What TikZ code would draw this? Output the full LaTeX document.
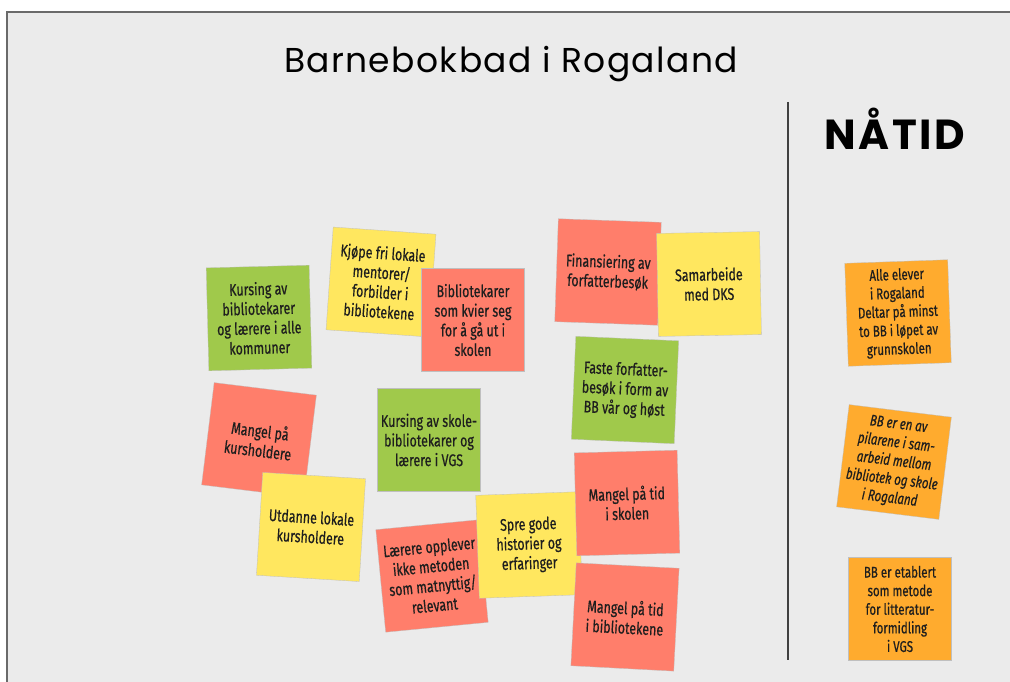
\documentclass[tikz,border=0pt]{standalone}
\usepackage{fontspec}
\setmainfont[FakeStretch=0.74,FakeBold=0.5]{Fira Sans}
\newfontfamily\titlefont[LetterSpace=4]{Poppins}
\newfontfamily\headfont[LetterSpace=6]{Poppins}
\definecolor{bgcol}{HTML}{EBEBEB}
\definecolor{framecol}{HTML}{6A6A6A}
\definecolor{gnote}{HTML}{A0C94B}
\definecolor{ynote}{HTML}{FFE75F}
\definecolor{rnote}{HTML}{FF7E6B}
\definecolor{onote}{HTML}{FFAB2E}
\definecolor{inkcol}{HTML}{1E1E1E}
\begin{document}
\begin{tikzpicture}[x=1pt,y=-1pt,
  note/.style={minimum width=103pt,minimum height=103pt,inner sep=0pt,align=center,
    text=inkcol,font=\fontsize{16.8}{19.6}\selectfont,draw=white!75!black,line width=0.3pt},
  gn/.style={note,fill=gnote},
  yn/.style={note,fill=ynote},
  rn/.style={note,fill=rnote},
  on/.style={note,fill=onote}]
\useasboundingbox (0,0) rectangle (1010,682);
\fill[white] (0,0) rectangle (1010,682);
\fill[bgcol] (7,12) rectangle (1012,684);
\draw[framecol,line width=2pt] (7,684) -- (7,12) -- (1012,12);
\coordinate (divtop) at (788,102);
\coordinate (divbot) at (788,660);
\draw[black!75,line width=2.2pt] (divtop) -- (divbot);
\node[font=\titlefont\fontsize{34.5}{40}\selectfont,text=black] (title) at (511,64) {Barnebokbad i Rogaland};
\node[font=\headfont\bfseries\fontsize{42}{46}\selectfont,text=black] (head) at (895,129) {NÅTID};
% left group
\node[gn,rotate=1.5] (n1) at (259,318) {Kursing av\\bibliotekarer\\og lærere i alle\\kommuner};
\node[yn,rotate=-4] (n2) at (381,282) {Kjøpe fri lokale\\mentorer/\\forbilder i\\bibliotekene};
\node[rn] (n3) at (473,320) {Bibliotekarer\\som kvier seg\\for å gå ut i\\skolen};
\node[rn,rotate=-2] (n4) at (608,272) {Finansiering av\\forfatterbesøk};
\node[yn,rotate=1] (n5) at (709,284) {Samarbeide\\med DKS};
\node[gn,rotate=-2.5] (n6) at (625,390) {Faste forfatter-\\besøk i form av\\BB vår og høst};
\node[rn,rotate=-7] (n7) at (259,440) {Mangel på\\kursholdere};
\node[yn,rotate=-3.5] (n8) at (311,527) {Utdanne lokale\\kursholdere};
\node[gn] (n9) at (429,440) {Kursing av skole-\\bibliotekarer og\\lærere i VGS};
\node[rn,rotate=5.5] (n10) at (432,576) {Lærere opplever\\ikke metoden\\som matnyttig/\\relevant};
\node[yn,rotate=2] (n11) at (529,545) {Spre gode\\historier og\\erfaringer};
\node[rn,rotate=1.5] (n12) at (627,503) {Mangel på tid\\i skolen};
\node[rn,rotate=-3] (n13) at (625,617) {Mangel på tid\\i bibliotekene};
% right group
\node[on,rotate=2,font=\fontsize{15.5}{18.6}\selectfont] (n14) at (898,313) {Alle elever\\i Rogaland\\Deltar på minst\\to BB i løpet av\\grunnskolen};
\node[on,rotate=-7,font=\fontsize{15.5}{18.6}\selectfont\itshape] (n15) at (894,462) {BB er en av\\pilarene i sam-\\arbeid mellom\\bibliotek og skole\\i Rogaland};
\node[on,font=\fontsize{15.5}{18.6}\selectfont] (n16) at (900,609) {BB er etablert\\som metode\\for litteratur-\\formidling\\i VGS};
\end{tikzpicture}
\end{document}
